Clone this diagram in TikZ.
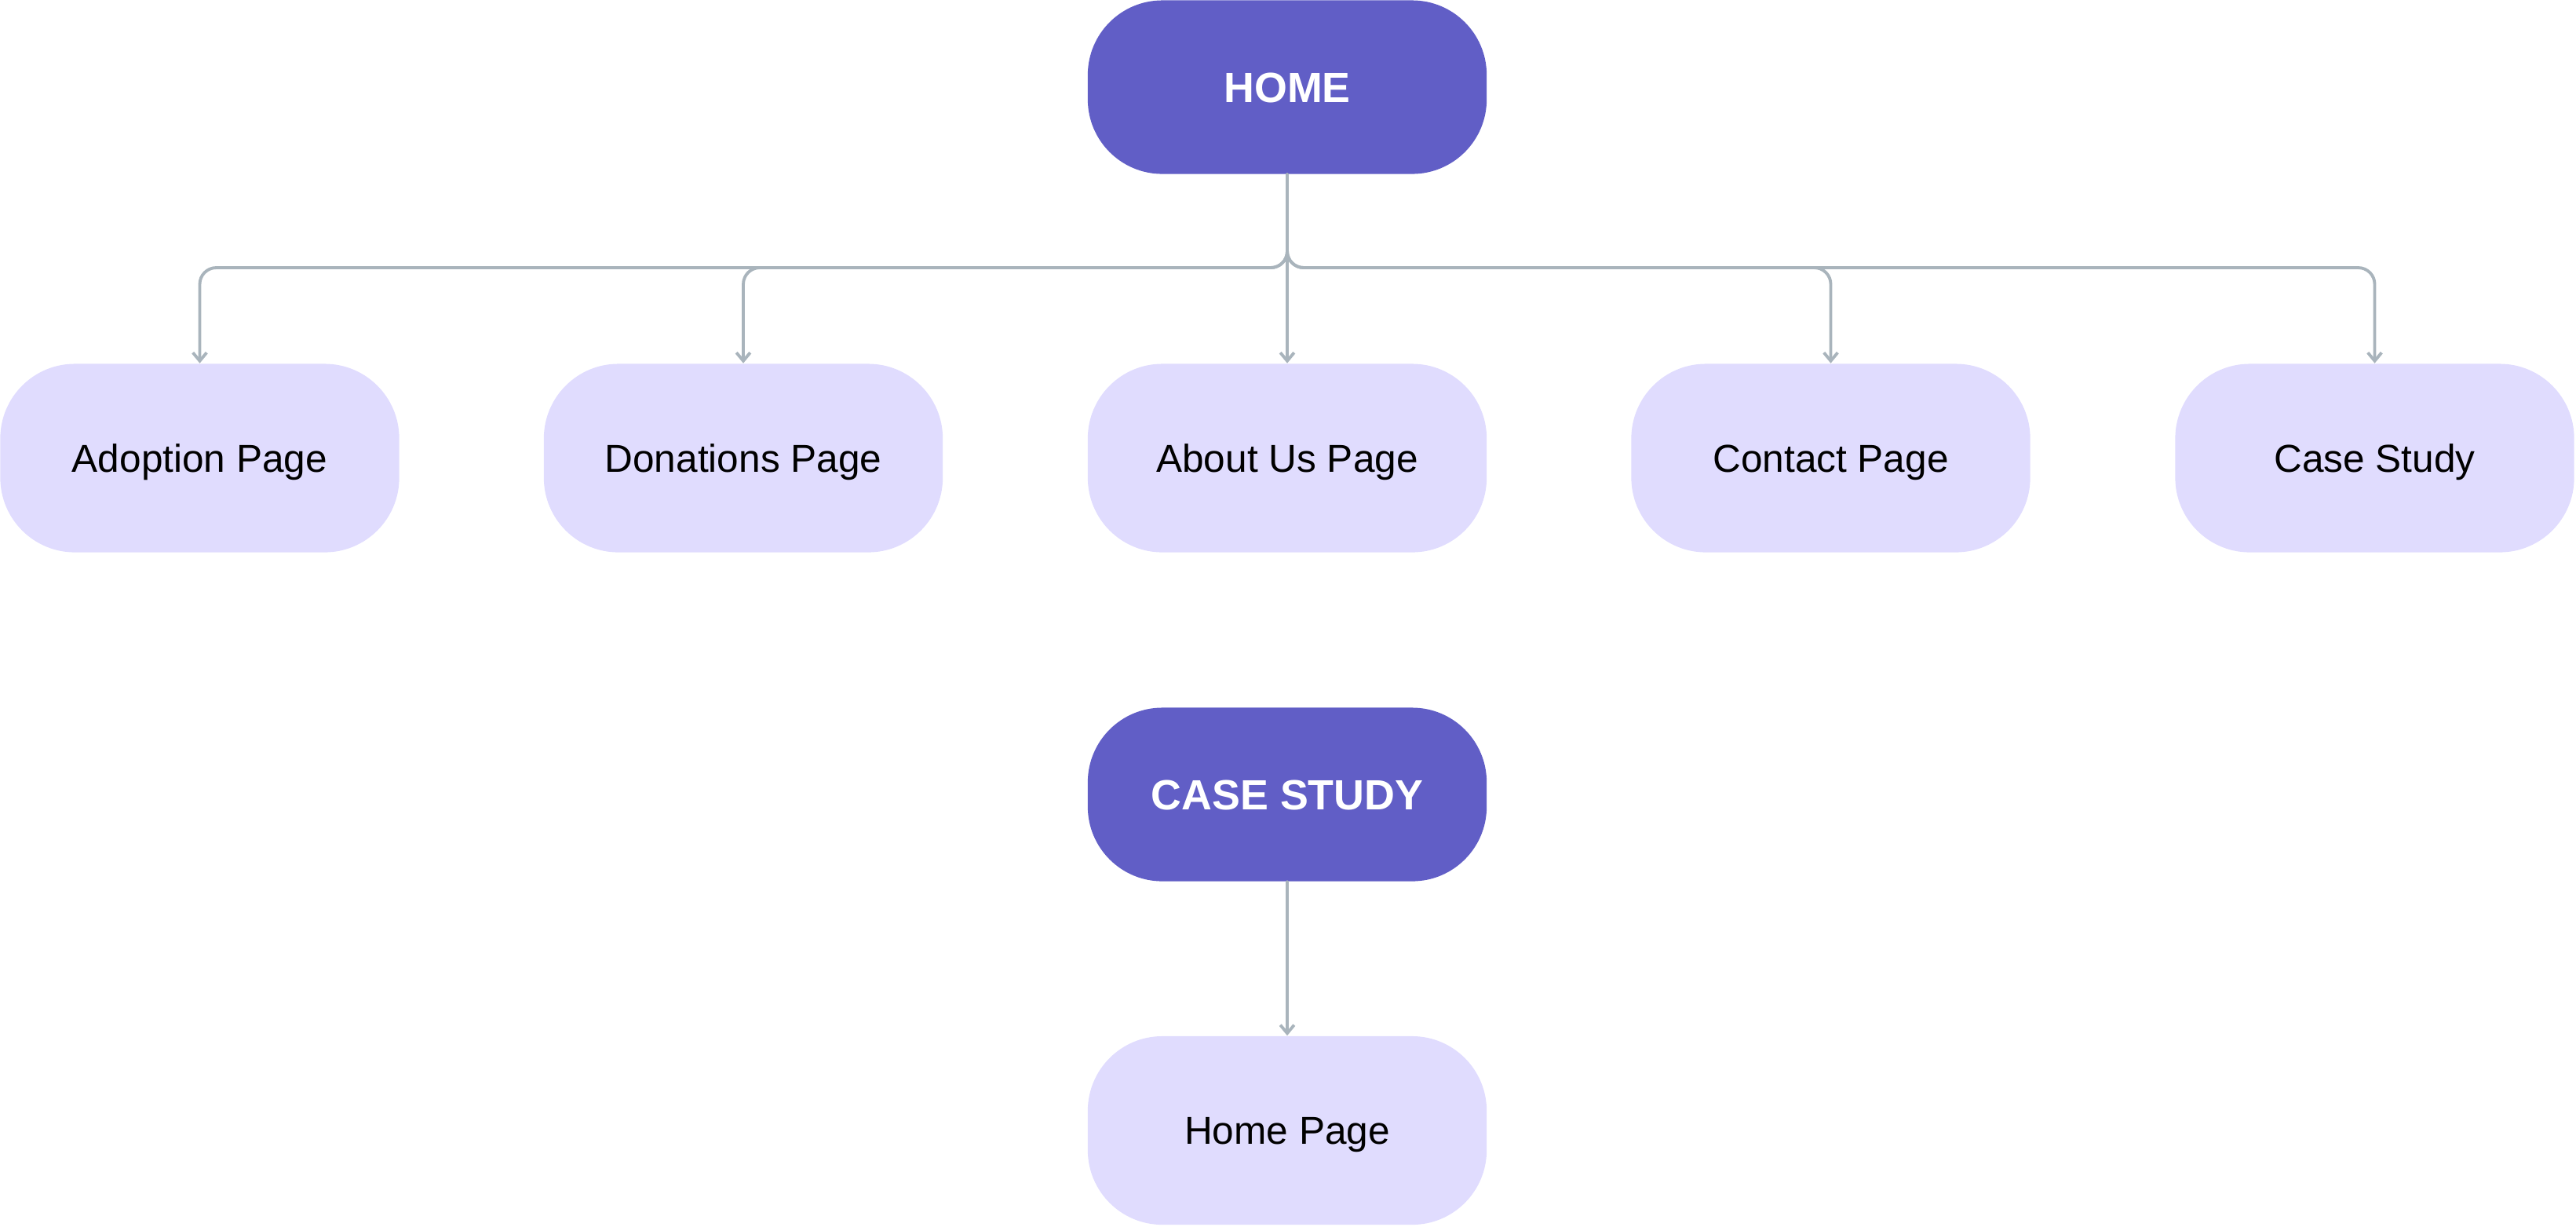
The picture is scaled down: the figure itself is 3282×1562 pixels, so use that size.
\documentclass[tikz,border=0pt]{standalone}
\usepackage{fontspec}
\setmainfont{Liberation Sans}
\usetikzlibrary{arrows.meta}
\definecolor{hubfill}{HTML}{615EC6}
\definecolor{pagefill}{HTML}{E0DCFE}
\definecolor{linkgray}{HTML}{A9B4BC}
\begin{document}
\begin{tikzpicture}[x=0.01cm,y=-0.01cm,
  hub/.style={fill=hubfill, rounded corners=0.95cm, minimum width=5.08cm,
    minimum height=2.21cm, inner sep=0pt, text=white,
    font=\fontsize{15.3}{18}\selectfont\bfseries, text height=0.39cm, text depth=0pt},
  pagebox/.style={fill=pagefill, rounded corners=0.95cm, minimum width=5.08cm,
    minimum height=2.40cm, inner sep=0pt, text=black,
    font=\fontsize{14.1}{16}\selectfont, text height=0.35cm, text depth=0pt},
  link/.style={draw=linkgray, line width=1.1pt, rounded corners=0.21cm,
    line cap=round, -{Straight Barb[length=3pt,width=5pt]}}]
\useasboundingbox (0,0) rectangle (3282,1562);

% top level
\node[hub] (home) at (1640,111) {HOME};
\node[pagebox] (adopt) at (254.5,583.5) {Adoption Page};
\node[pagebox] (donate) at (947,583.5) {Donations Page};
\node[pagebox] (about) at (1640,583.5) {About Us Page};
\node[pagebox] (contact) at (2332.5,583.5) {Contact Page};
\node[pagebox] (study) at (3025.5,583.5) {Case Study};

% case study section
\node[hub] (studyhub) at (1640,1012) {CASE STUDY};
\node[pagebox] (homepage) at (1640,1440) {Home Page};

% bus line
\coordinate (bus) at (1640,341);
\foreach \n in {adopt,donate,contact,study}
  \draw[link] (home.south) |- (bus -| \n.north) -- (\n.north);
\draw[link] (home.south) -- (about.north);
\draw[link] (studyhub.south) -- (homepage.north);
\end{tikzpicture}
\end{document}
